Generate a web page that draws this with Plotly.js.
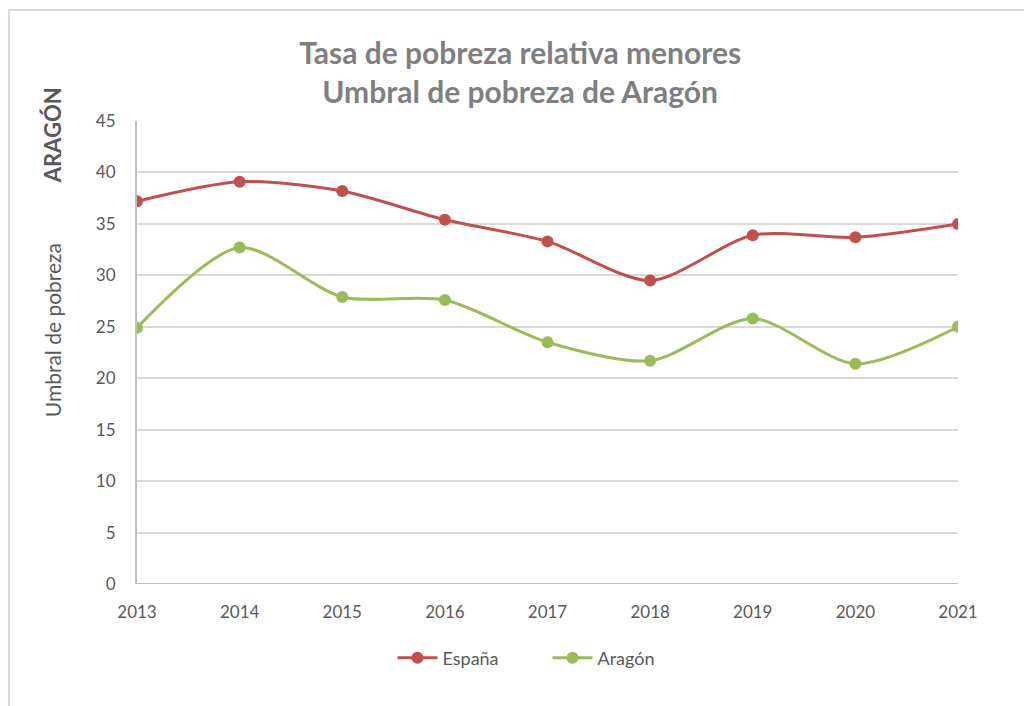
<!DOCTYPE html>
<html>
<head>
<meta charset="utf-8">
<script src="https://cdn.plot.ly/plotly-3.0.1.min.js"></script>
<style>html,body{margin:0;padding:0;background:#fff;}#chart{width:1024px;height:706px;}</style>
</head>
<body>
<div id="chart"></div>
<script>
const years = [2013, 2014, 2015, 2016, 2017, 2018, 2019, 2020, 2021];
const espana = [37.2, 39.1, 38.2, 35.4, 33.3, 29.5, 33.9, 33.7, 35.0];
const aragon = [24.9, 32.7, 27.9, 27.6, 23.5, 21.7, 25.8, 21.4, 25.0];
const seriesNames = ['España', 'Aragón'];
const titleLines = ['Tasa de pobreza relativa menores', 'Umbral de pobreza de Aragón'];

const FONT = 'Lato, "Open Sans", sans-serif';
const traces = [
  {x: years, y: espana, name: seriesNames[0], type: 'scatter', mode: 'lines+markers',
   line: {color: '#c0504d', width: 3, shape: 'spline', smoothing: 0.8},
   marker: {color: '#c0504d', size: 12}},
  {x: years, y: aragon, name: seriesNames[1], type: 'scatter', mode: 'lines+markers',
   line: {color: '#9bbb59', width: 3, shape: 'spline', smoothing: 0.8},
   marker: {color: '#9bbb59', size: 12}}
];

const layout = {
  width: 1024, height: 706,
  paper_bgcolor: '#fff', plot_bgcolor: '#fff',
  margin: {l: 137, r: 66, t: 121, b: 122},
  font: {family: FONT, color: '#595959', size: 16},
  title: {text: '<b>' + titleLines.join('<br>') + '</b>', x: 0.508, xanchor: 'center', y: 0.909, yanchor: 'middle',
          font: {family: FONT, size: 30, color: '#7f7f7f'}},
  xaxis: {range: [2013, 2021], dtick: 1, tick0: 2013, showgrid: false, zeroline: false,
          showline: false, ticks: '', ticklabelstandoff: 16, tickfont: {size: 17, color: '#595959'}, automargin: false},
  yaxis: {range: [0, 45], dtick: 5, showgrid: true, gridcolor: '#d9d9d9', gridwidth: 2,
          zeroline: false, showline: true, linecolor: '#bfbfbf', linewidth: 2, ticks: '', ticklabelstandoff: 16,
          tickfont: {size: 17, color: '#595959'}, automargin: false},
  showlegend: true,
  legend: {orientation: 'h', x: 0.5, xanchor: 'center', y: -0.16, yanchor: 'middle',
           font: {size: 18, color: '#595959'}, itemwidth: 40, entrywidth: 100, entrywidthmode: 'pixels', traceorder: 'normal'},
  shapes: [
    {type: 'line', xref: 'x', yref: 'y', x0: 2013, x1: 2021, y0: 0, y1: 0, line: {color: '#bfbfbf', width: 2}, layer: 'below'},
    {type: 'line', xref: 'paper', yref: 'paper', x0: -0.156, x1: -0.156, y0: -0.3, y1: 1.24, line: {color: '#d9d9d9', width: 2}},
    {type: 'line', xref: 'paper', yref: 'paper', x0: -0.156, x1: 1.1, y0: 1.24, y1: 1.24, line: {color: '#d9d9d9', width: 2}}
  ],
  annotations: [
    {text: '<b>ARAGÓN</b>', xref: 'paper', yref: 'paper', x: -0.103, y: 0.97, textangle: -90,
     showarrow: false, font: {family: FONT, size: 22, color: '#595959'}, xanchor: 'center', yanchor: 'middle'},
    {text: 'Umbral de pobreza', xref: 'paper', yref: 'paper', x: -0.103, y: 0.549, textangle: -90,
     showarrow: false, font: {family: FONT, size: 21, color: '#595959'}, xanchor: 'center', yanchor: 'middle'}
  ]
};

Plotly.newPlot('chart', traces, layout, {displayModeBar: false, staticPlot: true});
</script>
</body>
</html>
